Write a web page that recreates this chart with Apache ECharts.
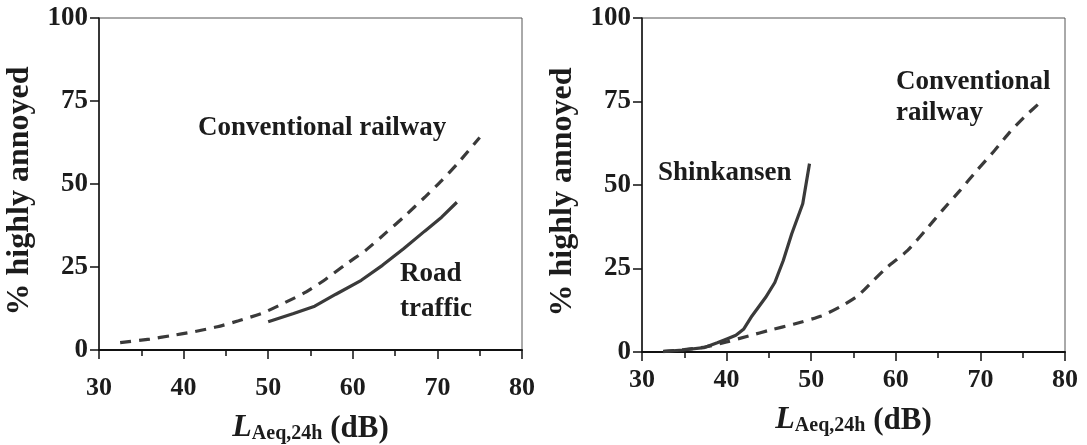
<!DOCTYPE html>
<html>
<head>
<meta charset="utf-8">
<script src="https://cdn.jsdelivr.net/npm/echarts@6/dist/echarts.min.js"></script>
<style>
html,body{margin:0;padding:0;background:#fff;}
#c{width:1087px;height:445px;}
</style>
</head>
<body>
<div id="c"></div>
<script>
// ---- data ----
const xTicks = [30, 40, 50, 60, 70, 80];
const yTicks = [0, 25, 50, 75, 100];

// Left panel
const convLeftX = [32.5, 36, 38.5, 41, 44, 46.5, 49.4, 52, 54.5, 56.5, 59, 61.5, 64, 66, 68.5, 70.5, 72.5, 75];
const convLeftY = [2.2, 3.3, 4.3, 5.4, 7.0, 8.8, 11.2, 14.3, 17.5, 20.8, 25.5, 30, 35.5, 40, 46, 51, 56.5, 64];
const roadX = [50, 53, 55.5, 58, 61, 63.5, 66, 68.5, 70.5, 72.3];
const roadY = [8.5, 11, 13.2, 16.8, 21, 25.5, 30.5, 35.8, 40, 44.5];

// Right panel
const shinX = [32.5, 34.8, 37.3, 38.9, 40.1, 41.1, 42.0, 43.0, 44.6, 45.7, 46.7, 47.7, 49.0, 49.8];
const shinY = [0.1, 0.6, 1.3, 2.8, 4.0, 5.0, 6.8, 10.8, 16.3, 20.8, 27.4, 35.4, 44.4, 56.4];
const convRightX = [32.5, 35, 37.5, 40, 42.6, 45.2, 47.9, 51.2, 53.6, 55.5, 57.3, 59.0, 61.4, 63.5, 65.5, 67.6, 69.6, 71.7, 73.5, 75.2, 77.2];
const convRightY = [0.2, 0.7, 1.5, 3.0, 4.8, 6.6, 8.3, 10.8, 13.8, 16.8, 21.3, 25.4, 30.4, 36.4, 42.4, 48.4, 54.4, 60.4, 65.9, 70.4, 75.0];

const yName = '% highly annoyed';
const xName = ['L', 'Aeq,24h', ' (dB)'];

// ---- chart ----
const FONT = '"Liberation Serif", "Times New Roman", serif';
const INK = '#1c1c1c';
const LINE = '#3a3a3a';

function zip(xs, ys) { return xs.map((x, i) => [x, ys[i]]); }

function xAxisCfg(gridIndex, labelMargin, nameGap) {
  return {
    type: 'value', gridIndex: gridIndex,
    min: xTicks[0], max: xTicks[xTicks.length - 1], interval: xTicks[1] - xTicks[0],
    axisLine: { show: true, lineStyle: { color: '#111', width: 2 } },
    axisTick: { show: true, inside: false, length: 9, lineStyle: { color: '#111', width: 1.5 } },
    minorTick: { show: true, splitNumber: 2, length: 6, lineStyle: { color: '#111', width: 1.5 } },
    splitLine: { show: false },
    axisLabel: { margin: labelMargin, fontFamily: FONT, fontWeight: 'bold', fontSize: 26, color: INK },
    name: '{l|' + xName[0] + '}{s|' + xName[1] + '}{d|' + xName[2] + '}',
    nameLocation: 'middle', nameGap: nameGap,
    nameTextStyle: {
      fontFamily: FONT, color: INK,
      rich: {
        l: { fontFamily: FONT, fontStyle: 'italic', fontWeight: 'bold', fontSize: 32, color: INK, lineHeight: 32, verticalAlign: 'bottom' },
        s: { fontFamily: FONT, fontWeight: 'bold', fontSize: 20, color: INK, lineHeight: 2, verticalAlign: 'bottom' },
        d: { fontFamily: FONT, fontWeight: 'bold', fontSize: 31, color: INK, lineHeight: 32, verticalAlign: 'bottom' }
      }
    }
  };
}
function yAxisCfg(gridIndex) {
  return {
    type: 'value', gridIndex: gridIndex,
    min: yTicks[0], max: yTicks[yTicks.length - 1], interval: yTicks[1] - yTicks[0],
    axisLine: { show: true, lineStyle: { color: '#111', width: 1.5 } },
    axisTick: { show: true, inside: false, length: 9, lineStyle: { color: '#111', width: 1.5 } },
    splitLine: { show: false },
    axisLabel: { margin: 11, fontFamily: FONT, fontWeight: 'bold', fontSize: 27, color: INK },
    name: yName, nameLocation: 'middle', nameGap: 63, nameRotate: 90,
    nameTextStyle: { fontFamily: FONT, fontWeight: 'bold', fontSize: 32, color: INK, padding: [0, 14, 0, 0] }
  };
}

const chart = echarts.init(document.getElementById('c'), null, { renderer: 'canvas' });
const textStyle = { fontFamily: FONT, fontWeight: 'bold', fontSize: 27, fill: INK };

chart.setOption({
  animation: false,
  backgroundColor: '#fff',
  grid: [
    { left: 99, top: 18, width: 423, height: 332, show: true, borderColor: '#555', borderWidth: 1, backgroundColor: 'transparent', containLabel: false, outerBoundsMode: 'none' },
    { left: 642, top: 18, width: 423, height: 334, show: true, borderColor: '#555', borderWidth: 1, backgroundColor: 'transparent', containLabel: false, outerBoundsMode: 'none' }
  ],
  xAxis: [xAxisCfg(0, 25, 62), xAxisCfg(1, 15, 52)],
  yAxis: [yAxisCfg(0), yAxisCfg(1)],
  series: [
    { type: 'line', xAxisIndex: 0, yAxisIndex: 0, data: zip(convLeftX, convLeftY), showSymbol: false, smooth: 0.2,
      lineStyle: { color: LINE, width: 3.2, type: [11, 8] } },
    { type: 'line', xAxisIndex: 0, yAxisIndex: 0, data: zip(roadX, roadY), showSymbol: false, smooth: false,
      lineStyle: { color: LINE, width: 3.2 } },
    { type: 'line', xAxisIndex: 1, yAxisIndex: 1, data: zip(convRightX, convRightY), showSymbol: false, smooth: 0.2,
      lineStyle: { color: LINE, width: 3.2, type: [11, 8] } },
    { type: 'line', xAxisIndex: 1, yAxisIndex: 1, data: zip(shinX, shinY), showSymbol: false, smooth: false,
      lineStyle: { color: LINE, width: 3.2 } }
  ],
  graphic: [
    { type: 'text', left: 198, top: 115, style: Object.assign({ text: 'Conventional railway' }, textStyle) },
    { type: 'text', left: 400, top: 261, style: Object.assign({ text: 'Road' }, textStyle) },
    { type: 'text', left: 400, top: 296, style: Object.assign({ text: 'traffic' }, textStyle) },
    { type: 'text', left: 658, top: 160, style: Object.assign({ text: 'Shinkansen' }, textStyle) },
    { type: 'text', left: 896, top: 69, style: Object.assign({ text: 'Conventional' }, textStyle) },
    { type: 'text', left: 896, top: 100, style: Object.assign({ text: 'railway' }, textStyle) }
  ]
});
</script>
</body>
</html>
